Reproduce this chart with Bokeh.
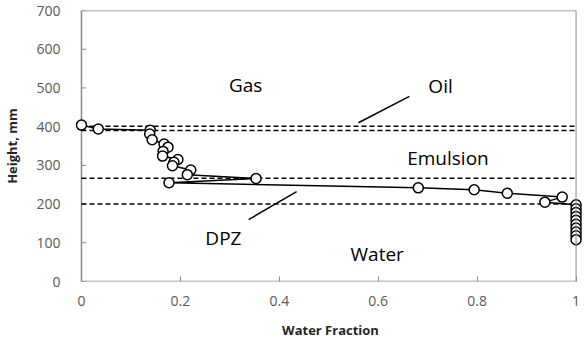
from bokeh.plotting import figure
from bokeh.models import Range1d, FixedTicker, Span
from bokeh.core.properties import value
from bokeh.embed import file_html
from bokeh.resources import INLINE

# Measured profile: water fraction vs height
water_fraction = [0.0, 0.034, 0.139, 0.138, 0.143, 0.167, 0.175, 0.165, 0.164,
                  0.195, 0.187, 0.184, 0.221, 0.214, 0.353, 0.177, 0.681, 0.794,
                  0.861, 0.972, 0.937, 1.0, 1.0, 1.0, 1.0, 1.0, 1.0, 1.0, 1.0,
                  1.0, 1.0]
height_mm = [404, 394, 391, 381, 366, 355, 347, 336, 324, 315, 308, 299, 288,
             276, 266, 255, 242, 237, 228, 218, 205, 198, 188, 178, 168, 158,
             148, 138, 128, 118, 108]

# Phase boundaries (dashed)
boundary_heights = [401, 390, 267, 200]

# Zone labels
zone_labels = ["Gas", "Oil", "Emulsion", "DPZ", "Water"]
zone_x = [0.332, 0.726, 0.741, 0.287, 0.598]
zone_y = [508, 506, 319, 113, 70]

# Leader lines for "Oil" and "DPZ"
leader_x0 = [0.663, 0.338]
leader_y0 = [478, 160]
leader_x1 = [0.560, 0.435]
leader_y1 = [410, 232]

x_ticks = [0, 0.2, 0.4, 0.6, 0.8, 1.0]
x_tick_labels = ["0", "0.2", "0.4", "0.6", "0.8", "1"]
y_ticks = [0, 100, 200, 300, 400, 500, 600, 700]

AXIS_GRAY = "#898989"
LABEL_GRAY = "#595959"
FONT = "Open Sans"

X_START, X_END = -0.01206, 1.0191
TICK_LEN = 5 * (X_END - X_START) / 513  # inward tick length in data units

p = figure(width=585, height=344, output_backend="svg", toolbar_location=None,
           x_range=Range1d(X_START, X_END), y_range=Range1d(0, 700),
           min_border_left=72, min_border_right=0, min_border_top=10,
           min_border_bottom=63)
p.outline_line_color = None
p.grid.visible = False
p.background_fill_color = "white"
p.border_fill_color = "white"

p.yaxis.ticker = FixedTicker(ticks=y_ticks)
p.yaxis.axis_label = "Height, mm"
p.yaxis.axis_line_color = None
p.yaxis.major_tick_line_color = None
p.yaxis.minor_tick_line_color = None
p.yaxis.major_label_standoff = 9
p.yaxis.axis_label_standoff = 12

p.xaxis.ticker = FixedTicker(ticks=x_ticks)
p.xaxis.major_label_overrides = {t: s for t, s in zip(x_ticks, x_tick_labels)}
p.xaxis.axis_label = "Water Fraction"
p.xaxis.axis_line_color = None
p.xaxis.major_tick_line_color = AXIS_GRAY
p.xaxis.major_tick_in = 5
p.xaxis.major_tick_out = 0
p.xaxis.minor_tick_line_color = None
p.xaxis.major_label_standoff = 14
p.xaxis.axis_label_standoff = 12

for ax in (p.xaxis, p.yaxis):
    ax.major_label_text_font = FONT
    ax.major_label_text_font_size = "14px"
    ax.major_label_text_color = LABEL_GRAY
    ax.axis_label_text_font = FONT
    ax.axis_label_text_font_size = "13px"
    ax.axis_label_text_font_style = "bold"
    ax.axis_label_text_color = "#262626"

# plot box: left, bottom, top and right edges
p.segment(x0=[0, 0, 0], y0=[0, 0, 700], x1=[0, 1, 1], y1=[700, 0, 700],
          line_color=AXIS_GRAY, line_width=1.5)
p.add_layout(Span(location=1, dimension="height", line_color=AXIS_GRAY,
                  line_width=1))
# inward y ticks along x = 0
p.segment(x0=[0] * len(y_ticks), y0=y_ticks, x1=[TICK_LEN] * len(y_ticks),
          y1=y_ticks, line_color=AXIS_GRAY, line_width=1)

# dashed phase boundaries
for h in boundary_heights:
    p.segment(x0=[0], y0=[h], x1=[1], y1=[h], line_color="black",
              line_width=1.5, line_dash="5 3")

# leader lines
p.segment(x0=leader_x0, y0=leader_y0, x1=leader_x1, y1=leader_y1,
          line_color="black", line_width=1.5)

# profile
p.line(water_fraction, height_mm, line_color="black", line_width=1.5)
p.scatter(water_fraction, height_mm, marker="circle", size=10,
          fill_color="white", line_color="black", line_width=1.5)

p.text(x=zone_x, y=zone_y, text=zone_labels, text_font=value(FONT),
       text_font_size="19px", text_align="center", text_baseline="middle",
       text_color="black")

open("out.html", "w").write(file_html(p, INLINE))
